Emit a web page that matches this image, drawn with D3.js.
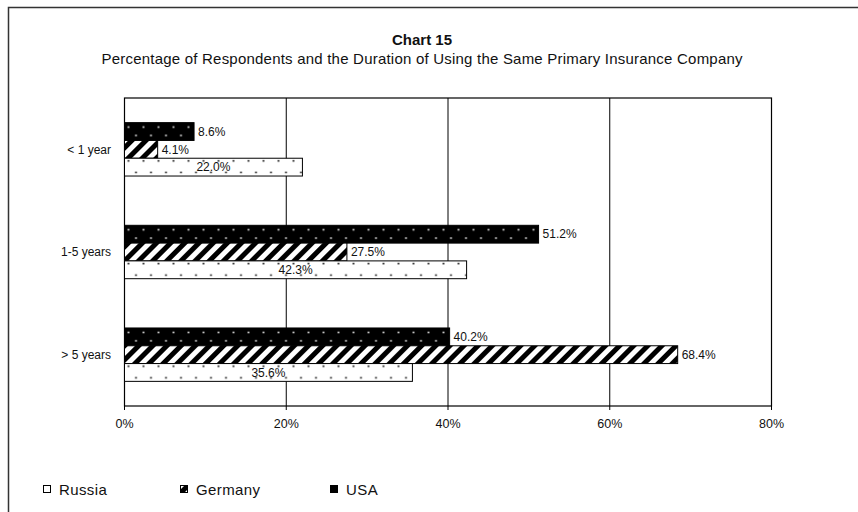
<!DOCTYPE html>
<meta charset="utf-8">
<script src="https://d3js.org/d3.v7.min.js"></script>
<style>
  body { margin: 0; background: #fff; }
  text { font-family: "Liberation Sans", Arial, sans-serif; fill: #111; }
</style>
<div id="chart"></div>
<script>
  // data
  const categories = ["< 1 year", "1-5 years", "> 5 years"];
  const seriesNames = ["USA", "Germany", "Russia"];   // top to bottom inside a group
  const usaValues = [8.6, 51.2, 40.2];
  const germanyValues = [4.1, 27.5, 68.4];
  const russiaValues = [22.0, 42.3, 35.6];
  const xTicks = [0, 20, 40, 60, 80];
  const legendOrder = ["Russia", "Germany", "USA"];

  const valuesBy = { USA: usaValues, Germany: germanyValues, Russia: russiaValues };

  const W = 858, H = 512;
  const plot = { left: 124.5, right: 771.5, top: 98, bottom: 406 };

  const svg = d3.select("#chart").append("svg")
    .attr("width", W).attr("height", H);

  // outer frame (only top and left edges fall inside the picture)
  svg.append("path")
    .attr("d", `M8.5,${H + 5} V7.5 H${W + 5}`)
    .attr("fill", "none").attr("stroke", "#333").attr("stroke-width", 1.5);

  // titles
  svg.append("text")
    .attr("x", 422).attr("y", 45)
    .attr("text-anchor", "middle")
    .style("font-weight", "bold").style("font-size", "15px")
    .text("Chart 15");
  svg.append("text")
    .attr("x", 422).attr("y", 64)
    .attr("text-anchor", "middle")
    .attr("textLength", 641).attr("lengthAdjust", "spacing")
    .style("font-size", "15px")
    .text("Percentage of Respondents and the Duration of Using the Same Primary Insurance Company");

  // scales
  const x = d3.scaleLinear().domain([0, 80]).range([plot.left, plot.right]);
  const y = d3.scaleBand().domain(categories).range([plot.top, plot.bottom]);
  const groupH = y.bandwidth() * 0.52;
  const yInner = d3.scaleBand().domain(seriesNames)
    .range([(y.bandwidth() - groupH) / 2, (y.bandwidth() + groupH) / 2]);

  // gridlines + tick marks below the axis
  svg.append("g").selectAll("line")
    .data(xTicks)
    .join("line")
      .attr("x1", d => x(d)).attr("x2", d => x(d))
      .attr("y1", plot.top).attr("y2", plot.bottom + 4)
      .attr("stroke", "#000").attr("stroke-width", 1);

  // plot border
  svg.append("rect")
    .attr("x", plot.left).attr("y", plot.top)
    .attr("width", plot.right - plot.left).attr("height", plot.bottom - plot.top)
    .attr("fill", "none").attr("stroke", "#000").attr("stroke-width", 1.2);

  // x tick labels
  svg.append("g").selectAll("text")
    .data(xTicks)
    .join("text")
      .attr("x", d => x(d)).attr("y", plot.bottom + 22)
      .attr("text-anchor", "middle")
      .style("font-size", "12.5px")
      .text(d => d + "%");

  // category labels
  svg.append("g").selectAll("text")
    .data(categories)
    .join("text")
      .attr("x", 111).attr("y", d => y(d) + y.bandwidth() / 2)
      .attr("dy", "0.35em")
      .attr("text-anchor", "end")
      .style("font-size", "12px")
      .text(d => d);

  // patterns, one per bar so the dots line up with each bar
  const defs = svg.append("defs");
  const bars = [];
  categories.forEach((c, i) => {
    seriesNames.forEach(s => {
      bars.push({ cat: c, series: s, value: valuesBy[s][i], id: "p" + i + s });
    });
  });

  bars.forEach(b => {
    if (b.series === "Germany") return;
    const by = y(b.cat) + yInner(b.series);
    const bh = yInner.bandwidth();
    const dark = b.series === "USA";
    const rows = dark ? [0.25, 0.72] : [0.15, 0.8];
    const p = defs.append("pattern")
      .attr("id", b.id)
      .attr("patternUnits", "userSpaceOnUse")
      .attr("x", x(0)).attr("y", by)
      .attr("width", 15).attr("height", bh);
    p.append("rect").attr("width", 15).attr("height", bh).attr("fill", dark ? "#000" : "#fff");
    [[4, rows[0]], [11.5, rows[1]]].forEach(([dx, r]) => {
      p.append("rect")
        .attr("x", dx - 0.8).attr("y", bh * r - 0.8)
        .attr("width", 1.6).attr("height", 1.6)
        .attr("fill", dark ? "#fff" : "#000");
    });
  });

  const stripes = defs.append("pattern")
    .attr("id", "stripes")
    .attr("patternUnits", "userSpaceOnUse")
    .attr("width", 10).attr("height", 10)
    .attr("patternTransform", "rotate(45)");
  stripes.append("rect").attr("width", 10).attr("height", 10).attr("fill", "#fff");
  stripes.append("rect").attr("width", 5).attr("height", 10).attr("fill", "#000");

  const fillOf = b => b.series === "Germany" ? "url(#stripes)" : `url(#${b.id})`;

  // bars
  svg.append("g").selectAll("rect")
    .data(bars)
    .join("rect")
      .attr("x", x(0))
      .attr("y", d => y(d.cat) + yInner(d.series))
      .attr("width", d => x(d.value) - x(0))
      .attr("height", yInner.bandwidth())
      .attr("fill", fillOf)
      .attr("stroke", "#000").attr("stroke-width", 1);

  // value labels: Russia centred in the bar, the others just after its end
  svg.append("g").selectAll("text")
    .data(bars)
    .join("text")
      .attr("x", d => d.series === "Russia" ? (x(0) + x(d.value)) / 2 : x(d.value) + 4)
      .attr("y", d => y(d.cat) + yInner(d.series) + yInner.bandwidth() / 2)
      .attr("dy", "0.35em")
      .attr("text-anchor", d => d.series === "Russia" ? "middle" : "start")
      .style("font-size", "12px")
      .text(d => d.value.toFixed(1) + "%");

  // legend
  const legendX = { Russia: 43, Germany: 180, USA: 330 };
  const legend = svg.append("g").selectAll("g")
    .data(legendOrder)
    .join("g")
      .attr("transform", d => `translate(${legendX[d]},490)`);
  legend.append("rect")
    .attr("x", 0.5).attr("y", -4.5)
    .attr("width", 7).attr("height", 7)
    .attr("fill", d => d === "USA" ? "#000" : d === "Germany" ? "url(#stripes)" : "#fff")
    .attr("stroke", "#000");
  legend.append("text")
    .attr("x", 16).attr("y", 0)
    .attr("dy", "0.35em")
    .style("font-size", "15px")
    .style("letter-spacing", "0.4px")
    .text(d => d);
</script>
